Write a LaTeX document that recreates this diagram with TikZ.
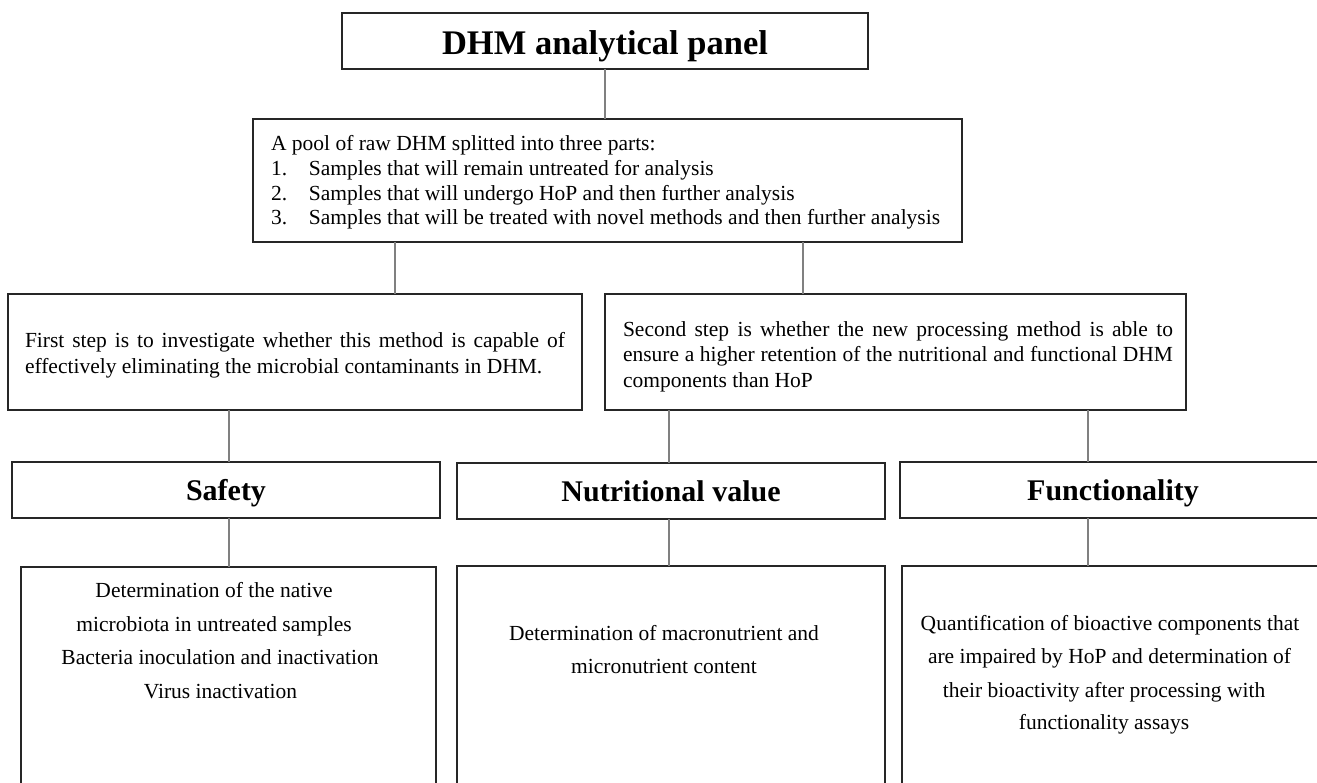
\documentclass[tikz,border=0pt]{standalone}
\usepackage{fontspec}
\setmainfont{Liberation Serif}
\begin{document}
\begin{tikzpicture}[x=1pt,y=-1pt,
  box/.style={draw=black!85, line width=1.8pt, inner sep=0pt, outer sep=0pt, anchor=north west, fill=none},
  link/.style={draw=black!50, line width=1.3pt},
  titlefont/.style={font=\fontsize{34.5}{40}\selectfont\bfseries, text height=27pt, text depth=0pt},
  headfont/.style={font=\fontsize{30}{36}\selectfont\bfseries, text height=20pt, text depth=0pt},
  bodyline/.style={font=\fontsize{21.5}{24.5}\selectfont, inner sep=0pt, outer sep=0pt},
]
\useasboundingbox (0,0) rectangle (1317,782);
\clip (0,0) rectangle (1317,782);
\fill[white] (0,0) rectangle (1317,782);

% boxes
\node[box, minimum width=526pt, minimum height=56pt, titlefont] (title) at (342,13) {DHM analytical panel};
\node[box, minimum width=709pt, minimum height=123pt] (pool) at (253,119) {};
\node[box, minimum width=574pt, minimum height=116pt] (first) at (8,294) {};
\node[box, minimum width=581pt, minimum height=116pt] (second) at (605,294) {};
\node[box, minimum width=428pt, minimum height=56pt, headfont] (safety) at (12,462) {Safety};
\node[box, minimum width=428pt, minimum height=56pt, headfont] (nutri) at (457,463) {Nutritional value};
\node[box, minimum width=426pt, minimum height=56pt, headfont] (func) at (900,462) {Functionality};
\node[box, minimum width=415pt, minimum height=240pt] (safetyd) at (21,567) {};
\node[box, minimum width=428pt, minimum height=240pt] (nutrid) at (457,566) {};
\node[box, minimum width=418pt, minimum height=240pt] (funcd) at (902,566) {};

% pool text
\node[bodyline, anchor=base west] (p0) at (271,150) {A pool of raw DHM splitted into three parts:};
\node[bodyline, anchor=base west] (p1) at (271,175) {\makebox[38pt][l]{1.}Samples that will remain untreated for analysis};
\node[bodyline, anchor=base west] (p2) at (271,200) {\makebox[38pt][l]{2.}Samples that will undergo HoP and then further analysis};
\node[bodyline, anchor=base west] (p3) at (271,224) {\makebox[38pt][l]{3.}Samples that will be treated with novel methods and then further analysis};

% first step text
\node[bodyline, anchor=base west] (f1) at (25,347) {\makebox[540pt][s]{First step is to investigate whether this method is capable of}};
\node[bodyline, anchor=base west] (f2) at (25,373) {effectively eliminating the microbial contaminants in DHM.};

% second step text
\node[bodyline, anchor=base west] (s1) at (623,336) {\makebox[550pt][s]{Second step is whether the new processing method is able to}};
\node[bodyline, anchor=base west] (s2) at (623,361) {\makebox[550pt][s]{ensure a higher retention of the nutritional and functional DHM}};
\node[bodyline, anchor=base west] (s3) at (623,387) {components than HoP};

% safety details
\node[bodyline, anchor=base] (sa1) at (214,597) {Determination of the native};
\node[bodyline, anchor=base] (sa2) at (214,631) {microbiota in untreated samples};
\node[bodyline, anchor=base] (sa3) at (220,664) {Bacteria inoculation and inactivation};
\node[bodyline, anchor=base] (sa4) at (220.5,698) {Virus inactivation};

% nutrition details
\node[bodyline, anchor=base] (nu1) at (664,640) {Determination of macronutrient and};
\node[bodyline, anchor=base] (nu2) at (664,673) {micronutrient content};

% functionality details
\node[bodyline, anchor=base] (fu1) at (1110,630) {Quantification of bioactive components that};
\node[bodyline, anchor=base] (fu2) at (1109.5,663) {are impaired by HoP and determination of};
\node[bodyline, anchor=base] (fu3) at (1104,697) {their bioactivity after processing with};
\node[bodyline, anchor=base] (fu4) at (1104,729) {functionality assays};

% connectors
\draw[link] (title.south) -- (title.south |- pool.north);
\draw[link] (pool.south -| 395,0) -- (first.north -| 395,0);
\draw[link] (pool.south -| 803,0) -- (second.north -| 803,0);
\draw[link] (first.south -| 229,0) -- (safety.north -| 229,0);
\draw[link] (second.south -| 669,0) -- (nutri.north -| 669,0);
\draw[link] (second.south -| 1088,0) -- (func.north -| 1088,0);
\draw[link] (safety.south -| 229,0) -- (safetyd.north -| 229,0);
\draw[link] (nutri.south -| 669,0) -- (nutrid.north -| 669,0);
\draw[link] (func.south -| 1088,0) -- (funcd.north -| 1088,0);
\end{tikzpicture}
\end{document}
